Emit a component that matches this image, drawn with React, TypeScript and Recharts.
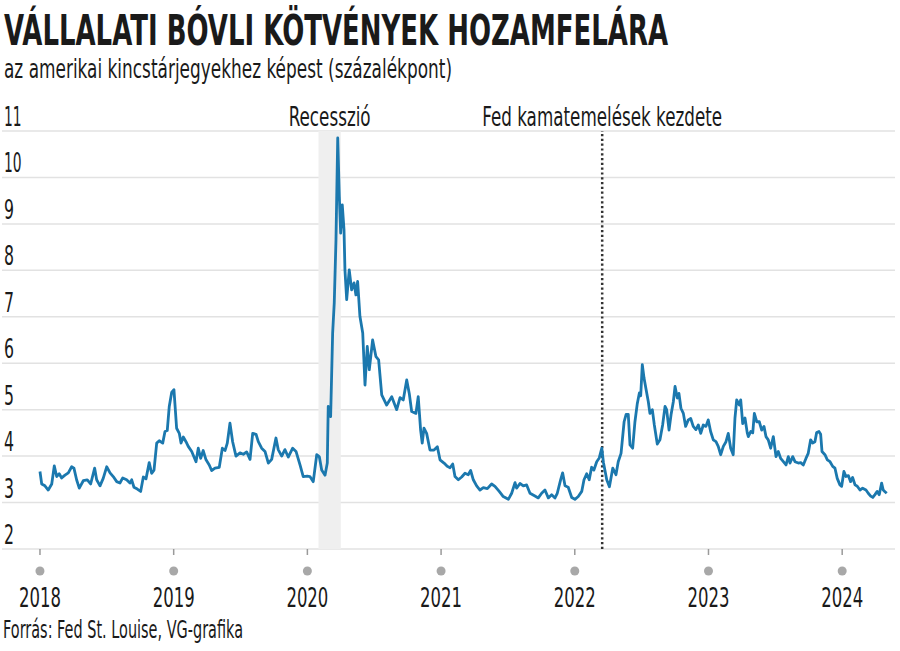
import React from 'react';
import { LineChart, Line, XAxis, YAxis, CartesianGrid, ReferenceArea, ReferenceLine } from 'recharts';

const TITLE = 'VÁLLALATI BÓVLI KÖTVÉNYEK HOZAMFELÁRA';
const SUBTITLE = 'az amerikai kincstárjegyekhez képest (százalékpont)';
const SOURCE = 'Forrás: Fed St. Louise, VG-grafika';
const RECESSION_LABEL = 'Recesszió';
const FED_LABEL = 'Fed kamatemelések kezdete';

const yearTicks = [2018, 2019, 2020, 2021, 2022, 2023, 2024];
const valueTicks = [2, 3, 4, 5, 6, 7, 8, 9, 10, 11];
const recession = [2020.083, 2020.25];
const fedStart = 2022.205;

const dates = [
  2018.000, 2018.013, 2018.037, 2018.062, 2018.088, 2018.107, 2018.125, 2018.144, 2018.162, 2018.187,
  2018.212, 2018.237, 2018.254, 2018.274, 2018.294, 2018.324, 2018.354, 2018.379, 2018.409, 2018.424,
  2018.449, 2018.473, 2018.499, 2018.524, 2018.548, 2018.574, 2018.598, 2018.619, 2018.648, 2018.673,
  2018.686, 2018.703, 2018.728, 2018.753, 2018.773, 2018.793, 2018.817, 2018.835, 2018.853, 2018.873,
  2018.892, 2018.918, 2018.935, 2018.952, 2018.967, 2018.985,
  2019.002, 2019.022, 2019.042, 2019.055, 2019.072, 2019.092, 2019.109, 2019.135, 2019.167, 2019.184,
  2019.202, 2019.221, 2019.242, 2019.266, 2019.284, 2019.309, 2019.341, 2019.364, 2019.384, 2019.401,
  2019.421, 2019.441, 2019.466, 2019.496, 2019.521, 2019.546, 2019.571, 2019.591, 2019.616, 2019.633,
  2019.658, 2019.683, 2019.708, 2019.733, 2019.765, 2019.782, 2019.808, 2019.832, 2019.857, 2019.890,
  2019.915, 2019.945, 2019.969, 2019.999,
  2020.019, 2020.044, 2020.070, 2020.089, 2020.107, 2020.132, 2020.149, 2020.156, 2020.174, 2020.189,
  2020.201, 2020.214, 2020.227, 2020.239, 2020.249, 2020.261, 2020.274, 2020.281, 2020.294, 2020.313,
  2020.331, 2020.349, 2020.363, 2020.376, 2020.393, 2020.414, 2020.431, 2020.448, 2020.463, 2020.488,
  2020.513, 2020.533, 2020.556, 2020.593, 2020.631, 2020.668, 2020.693, 2020.717, 2020.743, 2020.762,
  2020.780, 2020.812, 2020.829, 2020.847, 2020.859, 2020.872, 2020.892, 2020.917, 2020.947, 2020.972,
  2020.992, 2021.022, 2021.046,
  2021.067, 2021.087, 2021.104, 2021.129, 2021.154, 2021.179, 2021.203, 2021.221, 2021.241, 2021.266,
  2021.291, 2021.316, 2021.346, 2021.378, 2021.403, 2021.435, 2021.465, 2021.503, 2021.528, 2021.553,
  2021.565, 2021.590, 2021.615, 2021.640, 2021.665, 2021.702, 2021.727, 2021.752, 2021.777, 2021.802,
  2021.827, 2021.852, 2021.869, 2021.894, 2021.909, 2021.927, 2021.951, 2021.977, 2022.001, 2022.026,
  2022.052, 2022.069, 2022.089, 2022.108, 2022.126, 2022.143, 2022.164, 2022.183, 2022.202, 2022.214,
  2022.239, 2022.259, 2022.284, 2022.308, 2022.325, 2022.346, 2022.369, 2022.384, 2022.400, 2022.413,
  2022.433, 2022.450, 2022.467, 2022.483, 2022.493, 2022.505, 2022.518, 2022.533, 2022.550, 2022.562,
  2022.580, 2022.595, 2022.617, 2022.637, 2022.657, 2022.675, 2022.687, 2022.705, 2022.720, 2022.737,
  2022.750, 2022.767, 2022.779, 2022.794, 2022.812, 2022.829, 2022.849, 2022.867, 2022.886, 2022.906,
  2022.924, 2022.942, 2022.961, 2022.981, 2022.998, 2023.016, 2023.036, 2023.056, 2023.073, 2023.091,
  2023.111, 2023.131, 2023.148, 2023.166, 2023.185, 2023.198, 2023.211, 2023.231,
  2023.241, 2023.256, 2023.273, 2023.290, 2023.298, 2023.316, 2023.331, 2023.343, 2023.361, 2023.380,
  2023.398, 2023.415, 2023.430, 2023.447, 2023.465, 2023.485, 2023.505, 2023.522, 2023.540, 2023.560,
  2023.580, 2023.597, 2023.610, 2023.630, 2023.647, 2023.672, 2023.690, 2023.709, 2023.729, 2023.746,
  2023.764, 2023.779, 2023.796, 2023.809, 2023.826, 2023.839, 2023.849, 2023.871, 2023.889, 2023.909,
  2023.929, 2023.946, 2023.963, 2023.983, 2023.996, 2024.013, 2024.028, 2024.046, 2024.063, 2024.078,
  2024.096, 2024.113, 2024.133, 2024.153, 2024.178, 2024.195, 2024.213, 2024.229, 2024.245, 2024.262,
  2024.277, 2024.295, 2024.307, 2024.318, 2024.333,
];

const spreads = [
  3.67, 3.40, 3.36, 3.27, 3.40, 3.79, 3.56, 3.62, 3.53, 3.59,
  3.64, 3.77, 3.74, 3.49, 3.31, 3.47, 3.49, 3.40, 3.74, 3.49,
  3.36, 3.52, 3.77, 3.64, 3.56, 3.45, 3.42, 3.53, 3.49, 3.42,
  3.49, 3.33, 3.29, 3.24, 3.55, 3.51, 3.86, 3.63, 3.70, 4.28,
  4.33, 4.28, 4.53, 4.55, 5.07, 5.37,
  5.43, 4.60, 4.49, 4.28, 4.41, 4.31, 4.21, 4.10, 3.88, 4.17,
  3.95, 4.12, 3.92, 3.81, 3.69, 3.74, 3.76, 4.17, 4.12, 4.28,
  4.71, 4.31, 4.00, 4.07, 4.04, 4.09, 3.93, 4.49, 4.47, 4.31,
  4.17, 4.10, 3.85, 3.93, 4.39, 4.14, 4.00, 4.14, 3.98, 4.17,
  4.10, 3.81, 3.56, 3.57,
  3.56, 3.45, 4.03, 3.99, 3.70, 3.59, 3.85, 5.07, 4.85, 6.65,
  7.30, 8.66, 10.85, 9.59, 8.80, 9.41, 8.87, 8.01, 7.37, 8.01,
  7.58, 7.73, 7.47, 7.76, 7.01, 6.65, 5.53, 6.36, 5.86, 6.50,
  6.14, 6.07, 5.32, 5.10, 5.28, 5.00, 5.26, 5.21, 5.64, 5.35,
  4.96, 4.92, 5.28, 4.56, 4.28, 4.60, 4.49, 4.13, 4.13, 4.20,
  3.92, 3.85, 3.78,
  3.75, 3.83, 3.56, 3.49, 3.55, 3.63, 3.60, 3.69, 3.49, 3.36,
  3.27, 3.32, 3.30, 3.40, 3.35, 3.24, 3.13, 3.07, 3.20, 3.43,
  3.31, 3.41, 3.36, 3.38, 3.20, 3.14, 3.10, 3.20, 3.27, 3.10,
  3.17, 3.10, 3.20, 3.49, 3.64, 3.36, 3.33, 3.11, 3.07, 3.13,
  3.24, 3.49, 3.62, 3.49, 3.76, 3.70, 3.88, 3.96, 4.17, 3.87,
  3.49, 3.34, 3.74, 3.60, 3.88, 4.06, 4.74, 4.90, 4.90, 4.24,
  4.17, 4.74, 5.12, 5.36, 5.30, 5.97, 5.68, 5.44, 5.17, 4.92,
  5.00, 4.67, 4.26, 4.35, 4.67, 5.07, 5.00, 4.56, 4.89, 5.17,
  5.50, 5.25, 5.35, 5.03, 4.92, 4.64, 4.78, 4.81, 4.64, 4.57,
  4.67, 4.49, 4.67, 4.64, 4.78, 4.53, 4.35, 4.31, 4.21, 4.03,
  4.21, 4.31, 4.49, 4.17, 4.03, 4.82, 5.21, 5.10,
  5.21, 4.70, 4.82, 4.50, 4.42, 4.53, 4.50, 4.92, 4.74, 4.74,
  4.56, 4.64, 4.42, 4.35, 4.17, 4.42, 3.99, 4.10, 3.95, 3.88,
  3.81, 3.99, 3.85, 3.99, 3.88, 3.85, 3.86, 3.81, 3.95, 4.06,
  4.35, 4.28, 4.31, 4.51, 4.53, 4.47, 4.10, 4.03, 3.92, 3.88,
  3.78, 3.74, 3.52, 3.38, 3.35, 3.67, 3.56, 3.58, 3.45, 3.54,
  3.38, 3.35, 3.27, 3.31, 3.27, 3.20, 3.14, 3.11, 3.17, 3.24,
  3.17, 3.42, 3.27, 3.24, 3.20,
];

const data = dates.map((t, i) => ({ t, v: spreads[i] }));

const FONT = "'DejaVu Sans', 'Noto Sans', sans-serif";
const TEXT = '#1a1a1a';
const DIGIT_W = 10.5;

const YTick = (props: any) => {
  const { y, payload } = props;
  const s = String(payload.value);
  return (
    <text x={4} y={y - 5} fontSize={26} fill={TEXT} fontFamily={FONT} textAnchor="start"
      textLength={s.length * (s.length > 1 ? 8.8 : 10)} lengthAdjust="spacingAndGlyphs">
      {s}
    </text>
  );
};

const XTick = (props: any) => {
  const { x, y, payload } = props;
  const s = String(payload.value);
  return (
    <g>
      <line x1={x} x2={x} y1={y} y2={y + 6} stroke="#9a9a9a" strokeWidth={1.5} />
      <circle cx={x} cy={y + 22} r={4.5} fill="#a8a8a8" />
      <text x={x} y={y + 58} fontSize={26} fill={TEXT} fontFamily={FONT} textAnchor="middle"
        textLength={s.length * DIGIT_W} lengthAdjust="spacingAndGlyphs">
        {s}
      </text>
    </g>
  );
};

const TopLabel = (props: any) => {
  const { viewBox, text, len } = props;
  const cx = viewBox.x + (viewBox.width || 0) / 2;
  return (
    <text x={cx} y={viewBox.y - 5} fontSize={26} fill={TEXT} fontFamily={FONT} textAnchor="middle"
      textLength={len} lengthAdjust="spacingAndGlyphs">
      {text}
    </text>
  );
};

export default function App() {
  return (
    <div style={{ position: 'absolute', left: 0, top: 0, width: 900, height: 651, background: '#fff' }}>
      <LineChart
        width={900}
        height={651}
        data={data}
        margin={{ top: 131, right: 5, bottom: 0, left: 1 }}
      >
        <CartesianGrid vertical={false} stroke="#e2e2e2" strokeWidth={1.5} />
        <ReferenceArea x1={recession[0]} x2={recession[1]} y1={2} y2={11} fill="#efefef" fillOpacity={1} stroke="none"
          label={<TopLabel text={RECESSION_LABEL} len={82} />} />
        <XAxis
          dataKey="t"
          type="number"
          domain={[2017.716, 2024.395]}
          ticks={yearTicks}
          axisLine={false}
          tickLine={false}
          tickSize={0}
          tickMargin={0}
          height={102}
          tick={<XTick />}
          interval={0}
        />
        <YAxis
          type="number"
          domain={[2, 11]}
          ticks={valueTicks}
          width={1}
          axisLine={false}
          tickLine={false}
          tick={<YTick />}
          interval={0}
        />
        <ReferenceLine x={fedStart} stroke="#333" strokeWidth={2.5} strokeDasharray="2.2 2.6"
          label={<TopLabel text={FED_LABEL} len={240} />} />
        <Line type="linear" dataKey="v" stroke="#1b78ae" strokeWidth={2.8} dot={false} isAnimationActive={false} strokeLinejoin="round" />
      </LineChart>
      <svg width={900} height={651} style={{ position: 'absolute', left: 0, top: 0, pointerEvents: 'none' }}>
        <text transform="translate(4,45) scale(0.7,1)" x={0} y={0} fontSize={42} fontWeight="bold" fill={TEXT} fontFamily={FONT}
          textLength={664 / 0.7} lengthAdjust="spacingAndGlyphs">{TITLE}</text>
        <text transform="translate(4,78) scale(0.8,1)" x={0} y={0} fontSize={27} fill={TEXT} fontFamily={FONT}
          textLength={448 / 0.8} lengthAdjust="spacingAndGlyphs">{SUBTITLE}</text>
        <text x={3} y={638} fontSize={24} fill={TEXT} fontFamily={FONT} textLength={240} lengthAdjust="spacingAndGlyphs">{SOURCE}</text>
      </svg>
    </div>
  );
}
